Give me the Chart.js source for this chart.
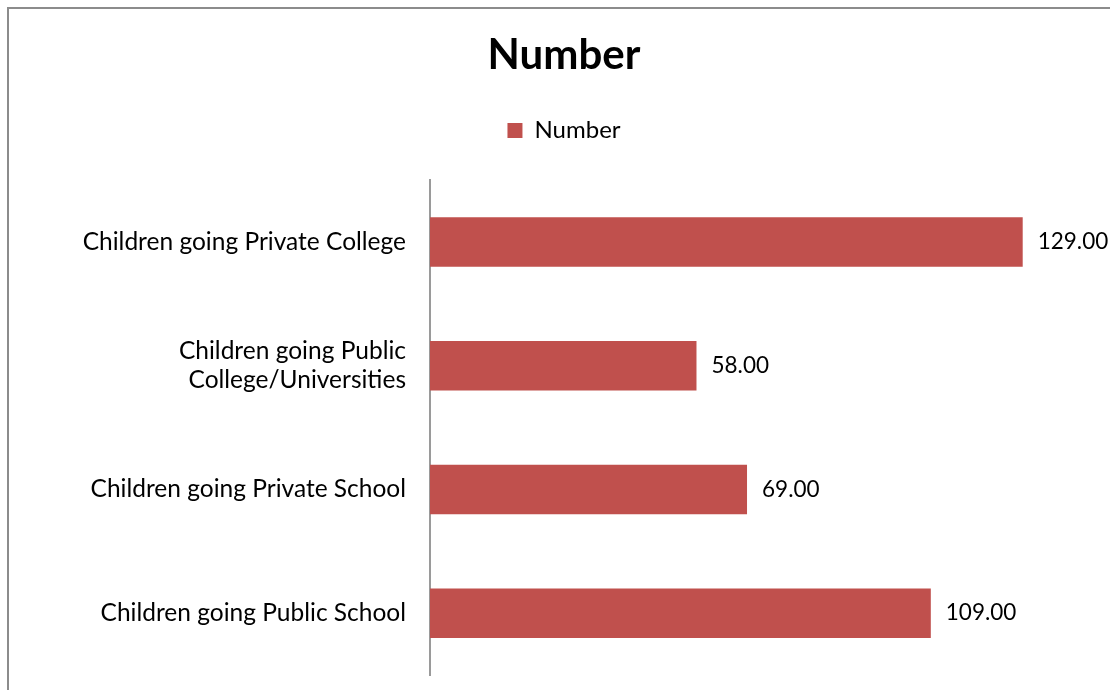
<!DOCTYPE html>
<html>
<head>
<meta charset="utf-8">
<script src="https://cdn.jsdelivr.net/npm/chart.js@4"></script>
<style>
  html, body { margin: 0; padding: 0; background: #fff; overflow: hidden; width: 1110px; height: 690px; }
  #wrap { position: relative; width: 1110px; height: 690px; overflow: hidden; }
  #frame { position: absolute; left: 7px; top: 7px; width: 1103px; height: 683px;
           border-left: 2px solid #8c8c8c; border-top: 2px solid #8c8c8c; box-sizing: border-box; }
  canvas { position: absolute; left: 0; top: 0; }
</style>
</head>
<body>
<div id="wrap">
  <div id="frame"></div>
  <canvas id="c" width="1110" height="690"></canvas>
</div>
<script>
const categories = [
  "Children going Private College",
  ["Children going Public", "College/Universities"],
  "Children going Private School",
  "Children going Public School"
];
const seriesName = "Number";
const values = [129, 58, 69, 109];
const axisMax = 148;

const FONT = "Lato, 'Liberation Sans', sans-serif";

const dataLabels = {
  id: 'dataLabels',
  afterDatasetsDraw(chart) {
    const ctx = chart.ctx;
    ctx.save();
    ctx.font = "22.5px " + FONT;
    ctx.fillStyle = "#000";
    ctx.textAlign = "left";
    ctx.textBaseline = "middle";
    chart.getDatasetMeta(0).data.forEach((bar, i) => {
      ctx.fillText(values[i].toFixed(2), bar.x + 15, bar.y);
    });
    ctx.restore();
  }
};

new Chart(document.getElementById('c'), {
  type: 'bar',
  data: {
    labels: categories,
    datasets: [{
      label: seriesName,
      data: values,
      backgroundColor: '#C0504D',
      borderWidth: 0,
      categoryPercentage: 1.0,
      barPercentage: 0.4
    }]
  },
  options: {
    indexAxis: 'y',
    responsive: false,
    animation: false,
    layout: { padding: { left: 18, right: 0, top: 0, bottom: 0 } },
    plugins: {
      title: {
        display: true,
        text: 'Number',
        color: '#000',
        font: { family: FONT, size: 42, weight: 'bold' },
        padding: { top: 30, bottom: 18 }
      },
      subtitle: {
        display: true,
        text: '',
        weight: 500,
        font: { size: 1 },
        padding: { top: 0, bottom: 26.4 }
      },
      legend: {
        display: true,
        position: 'top',
        labels: {
          color: '#000',
          font: { family: FONT, size: 24 },
          boxWidth: 15,
          boxHeight: 15,
          padding: 20
        }
      },
      tooltip: { enabled: false }
    },
    scales: {
      x: {
        display: false,
        min: 0,
        max: axisMax
      },
      y: {
        grid: { display: false, drawTicks: false },
        border: { display: true, color: '#9a9a9a', width: 2 },
        ticks: {
          color: '#000',
          font: { family: FONT, size: 24.5 },
          padding: 24
        },
        afterFit(scale) {
          scale.width = 412;
          scale.paddingTop = 180;
          scale.paddingBottom = 15;
        }
      }
    }
  },
  plugins: [dataLabels]
});
</script>
</body>
</html>
